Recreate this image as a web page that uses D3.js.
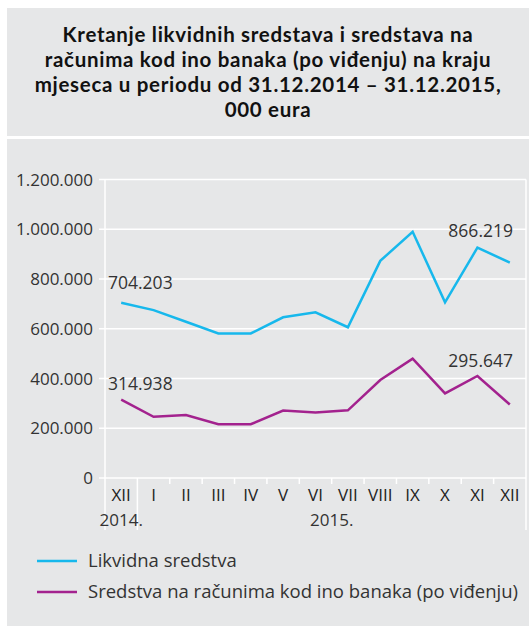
<!DOCTYPE html>
<html>
<head>
<meta charset="utf-8">
<script src="https://cdn.jsdelivr.net/npm/d3@7"></script>
<style>
  body { margin: 0; background: #fff; }
  text { font-family: "Open Sans", "Noto Sans", sans-serif; }
</style>
</head>
<body>
<div id="chart"></div>
<script>
// data
const months = ["XII", "I", "II", "III", "IV", "V", "VI", "VII", "VIII", "IX", "X", "XI", "XII"];
const likvidna = [704203, 675000, 628000, 581000, 581000, 646000, 666000, 606000, 873000, 990000, 706000, 926000, 866219];
const inoBanke = [314938, 246000, 253000, 216000, 216000, 271000, 263000, 272000, 394000, 480000, 340000, 410000, 295647];
const yTicks = [0, 200000, 400000, 600000, 800000, 1000000, 1200000];
const titleLines = [
  "Kretanje likvidnih sredstava i sredstava na",
  "računima kod ino banaka (po viđenju) na kraju",
  "mjeseca u periodu od 31.12.2014 – 31.12.2015,",
  "000 eura"
];
const seriesNames = ["Likvidna sredstva", "Sredstva na računima kod ino banaka (po viđenju)"];
const colors = ["#17b8ec", "#a3228e"];

const width = 529;
const height = 626;
const svg = d3.select("#chart")
  .append("svg")
  .attr("width", width)
  .attr("height", height);

// panels
svg.append("rect").attr("x", 7).attr("y", 8).attr("width", width - 7).attr("height", 128).attr("fill", "#e6e7e8");
svg.append("rect").attr("x", 7).attr("y", 139).attr("width", width - 7).attr("height", height - 139).attr("fill", "#e6e7e8");

// title
svg.append("g")
  .selectAll("text")
  .data(titleLines)
  .enter()
  .append("text")
  .attr("x", 268)
  .attr("y", (d, i) => 42 + i * 25)
  .attr("text-anchor", "middle")
  .style("font-family", "Lato, 'Open Sans', sans-serif")
  .style("font-size", "20.5px")
  .style("font-weight", "bold")
  .style("letter-spacing", "0.7px")
  .style("fill", "#111")
  .text(d => d);

// scales
const x = d3.scaleBand().domain(d3.range(months.length)).range([105, 526]);
const y = d3.scaleLinear().domain([0, 1200000]).range([478, 179.5]);
const fmt = v => d3.format(",")(v).replace(/,/g, ".");

// gridlines
svg.append("g")
  .selectAll("line")
  .data(yTicks)
  .enter()
  .append("line")
  .attr("x1", 99)
  .attr("x2", 526)
  .attr("y1", d => y(d))
  .attr("y2", d => y(d))
  .style("stroke", "#fff")
  .style("stroke-width", 1.5);

// y labels
svg.append("g")
  .selectAll("text")
  .data(yTicks)
  .enter()
  .append("text")
  .attr("x", 93)
  .attr("y", d => y(d) + 6)
  .attr("text-anchor", "end")
  .style("font-size", "17px")
  .style("fill", "#333")
  .text(d => fmt(d));

// x axis: vertical ticks at band edges
const edges = d3.range(months.length + 1).map(i => 105 + i * x.step());
svg.append("g")
  .selectAll("line")
  .data(edges)
  .enter()
  .append("line")
  .attr("x1", d => d)
  .attr("x2", d => d)
  .attr("y1", (d, i) => (i === 0 || i === months.length) ? y(1200000) : y(0))
  .attr("y2", (d, i) => (i <= 1 || i === months.length) ? 530 : y(0) + 6)
  .style("stroke", "#fff")
  .style("stroke-width", 1.5);

svg.append("g")
  .selectAll("text")
  .data(months)
  .enter()
  .append("text")
  .attr("x", (d, i) => x(i) + x.bandwidth() / 2)
  .attr("y", 501)
  .attr("text-anchor", "middle")
  .style("font-size", "17px")
  .style("fill", "#222")
  .text(d => d);

svg.append("text")
  .attr("x", x(0) + x.bandwidth() / 2)
  .attr("y", 526)
  .attr("text-anchor", "middle")
  .style("font-size", "17px")
  .style("fill", "#333")
  .text("2014.");

svg.append("text")
  .attr("x", (x(1) + x(12) + x.bandwidth()) / 2)
  .attr("y", 526)
  .attr("text-anchor", "middle")
  .style("font-size", "17px")
  .style("fill", "#333")
  .text("2015.");

// lines
const line = d3.line()
  .x((d, i) => x(i) + x.bandwidth() / 2)
  .y(d => y(d));

[likvidna, inoBanke].forEach((s, k) => {
  svg.append("path")
    .datum(s)
    .attr("d", line)
    .style("fill", "none")
    .style("stroke", colors[k])
    .style("stroke-width", 2.5);
});

// value labels
const labels = [
  { v: likvidna[0], i: 0, anchor: "start", dy: -14 },
  { v: inoBanke[0], i: 0, anchor: "start", dy: -10 },
  { v: likvidna[12], i: 12, anchor: "end", dy: -26 },
  { v: inoBanke[12], i: 12, anchor: "end", dy: -37 }
];
svg.append("g")
  .selectAll("text")
  .data(labels)
  .enter()
  .append("text")
  .attr("x", d => d.i === 0 ? 108 : 513)
  .attr("y", d => y(d.v) + d.dy)
  .attr("text-anchor", d => d.anchor)
  .style("font-size", "17.5px")
  .style("fill", "#333")
  .text(d => fmt(d.v));

// legend
const legend = svg.append("g")
  .selectAll("g")
  .data(seriesNames)
  .enter()
  .append("g")
  .attr("transform", (d, i) => `translate(0, ${561 + i * 31})`);

legend.append("line")
  .attr("x1", 37)
  .attr("x2", 77)
  .style("stroke", (d, i) => colors[i])
  .style("stroke-width", 2.5);

legend.append("text")
  .attr("x", 88)
  .attr("y", 6)
  .style("font-size", "18.5px")
  .style("fill", "#333")
  .text(d => d);
</script>
</body>
</html>
